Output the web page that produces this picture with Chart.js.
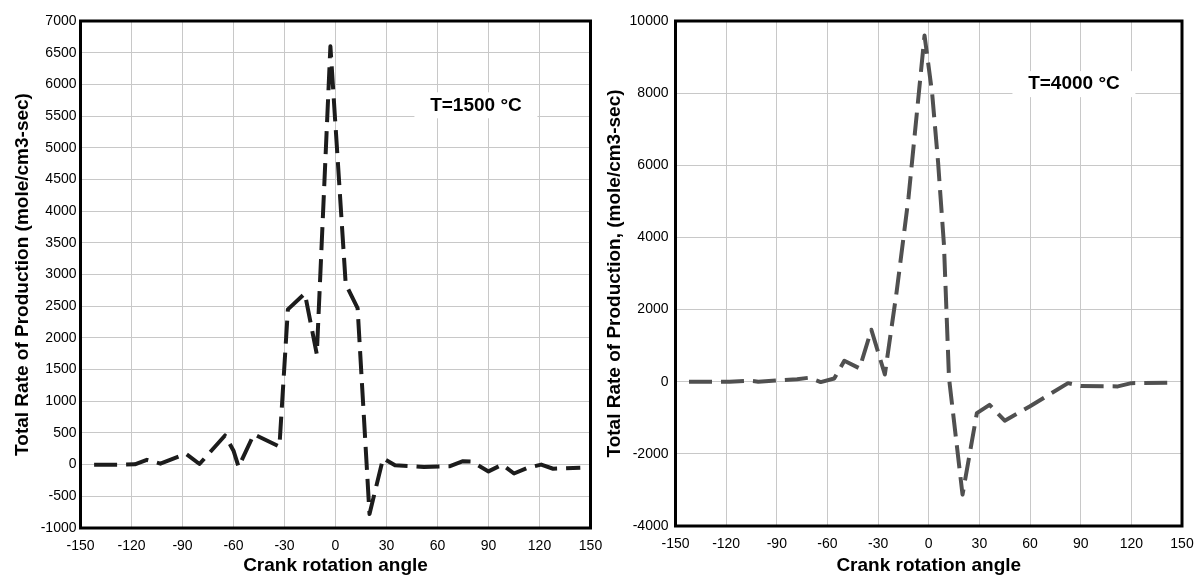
<!DOCTYPE html>
<html>
<head>
<meta charset="utf-8">
<script src="https://cdn.jsdelivr.net/npm/chart.js@4.4.0/dist/chart.umd.min.js"></script>
<style>
  html, body { margin: 0; padding: 0; background: #fff; }
  #wrap { position: relative; width: 1194px; height: 576px; overflow: hidden; }
  .box { position: absolute; top: 0; height: 576px; }
</style>
</head>
<body>
<div id="wrap">
  <div class="box" style="left:0;width:620px"><canvas id="chartLeft" width="620" height="576"></canvas></div>
  <div class="box" style="left:597px;width:597px"><canvas id="chartRight" width="597" height="576"></canvas></div>
</div>
<script>
// crank angle (deg) and production rate, T=1500 C
const angle1500 = [-142, -125, -118, -111, -103, -88, -80, -65, -60, -57, -48, -33, -28, -18, -11, -3, 6, 13, 20, 28, 35, 52, 67, 75, 80, 90, 98, 105, 113, 121, 128, 144];
const rate1500  = [0, 0, 5, 75, 15, 170, 10, 460, 220, -35, 480, 285, 2450, 2700, 1740, 6600, 2850, 2470, -780, 100, -10, -37, -27, 55, 50, -107, 0, -140, -50, 0, -65, -50];

// crank angle (deg) and production rate, T=4000 C
const angle4000 = [-142, -118, -106, -101, -78, -71, -64, -56, -50, -41, -34, -26, -19, -12, -2.5, 2, 5.5, 9, 12, 20, 28.5, 36, 45, 60, 82.5, 90, 112, 120, 144];
const rate4000  = [0, 0, 28, 0, 70, 110, -10, 90, 580, 370, 1440, 200, 2500, 5100, 9600, 8000, 6100, 3800, 100, -3130, -870, -640, -1080, -680, -40, -120, -130, -40, -30];

const xTicks = { min: -150, max: 150, step: 30 };
const yTicks1500 = { min: -1000, max: 7000, step: 500 };
const yTicks4000 = { min: -4000, max: 10000, step: 2000 };

const FONT = '"Liberation Sans", Arial, sans-serif';

function toPoints(xs, ys) {
  return xs.map((x, i) => ({ x: x, y: ys[i] }));
}

// black frame round the plot area and the temperature label
const framePlugin = {
  id: 'frame',
  afterDatasetsDraw(chart, args, opts) {
    const ctx = chart.ctx;
    const a = chart.chartArea;
    ctx.save();
    // label box
    const px = chart.scales.x.getPixelForValue(opts.labelX);
    const py = chart.scales.y.getPixelForValue(opts.labelY);
    ctx.fillStyle = '#fff';
    ctx.fillRect(px - opts.boxW / 2, py - 13, opts.boxW, 26);
    ctx.fillStyle = '#000';
    ctx.font = 'bold 19px ' + FONT;
    ctx.textAlign = 'center';
    ctx.textBaseline = 'middle';
    ctx.fillText(opts.label, px, py);
    // frame
    ctx.strokeStyle = '#000';
    ctx.lineWidth = 3;
    ctx.strokeRect(a.left, a.top, a.right - a.left, a.bottom - a.top);
    ctx.restore();
  }
};

function makeChart(id, xs, ys, yt, cfg) {
  const ctx = document.getElementById(id).getContext('2d');
  return new Chart(ctx, {
    type: 'scatter',
    data: {
      datasets: [{
        data: toPoints(xs, ys),
        showLine: true,
        borderColor: cfg.color,
        borderWidth: 4,
        borderDash: [23, 9],
        borderJoinStyle: 'round',
        pointRadius: 0,
        tension: 0,
        fill: false
      }]
    },
    options: {
      responsive: false,
      animation: false,
      layout: { autoPadding: false, padding: { left: 0, right: cfg.padRight, top: 21, bottom: 0 } },
      plugins: {
        legend: { display: false },
        tooltip: { enabled: false },
        frame: { label: cfg.label, labelX: cfg.labelX, labelY: cfg.labelY, boxW: 123 }
      },
      scales: {
        x: {
          type: 'linear',
          min: xTicks.min,
          max: xTicks.max,
          afterFit: s => { s.height = cfg.xHeight; s.paddingLeft = 0; s.paddingRight = 0; },
          ticks: { stepSize: xTicks.step, padding: 10, color: '#000', font: { family: FONT, size: 14 }, callback: v => String(v) },
          grid: { color: '#c8c8c8', lineWidth: 1, drawTicks: false },
          border: { display: false },
          title: {
            display: true,
            text: 'Crank rotation angle',
            color: '#000',
            font: { family: FONT, size: 19, weight: 'bold', lineHeight: 1.1 },
            padding: { top: 0, bottom: 0 }
          }
        },
        y: {
          min: yt.min,
          max: yt.max,
          afterFit: s => { s.width = cfg.yWidth; s.paddingTop = 0; s.paddingBottom = 0; },
          ticks: { stepSize: yt.step, padding: cfg.yPad, color: '#000', font: { family: FONT, size: 14 }, callback: v => String(v) },
          grid: { color: '#c8c8c8', lineWidth: 1, drawTicks: false },
          border: { display: false },
          title: {
            display: true,
            text: cfg.yTitle,
            color: '#000',
            font: { family: FONT, size: 19, weight: 'bold', lineHeight: 1.1 },
            padding: { top: cfg.yTitlePad, bottom: 0 }
          }
        }
      }
    },
    plugins: [framePlugin]
  });
}

makeChart('chartLeft', angle1500, rate1500, yTicks1500, {
  color: '#1c1c1c',
  label: 'T=1500 \u00B0C',
  labelX: 82.6, labelY: 5670,
  padRight: 29.5, xHeight: 48, yWidth: 80.5, yPad: 4, yTitlePad: 12,
  yTitle: 'Total Rate of Production (mole/cm3-sec)'
});

makeChart('chartRight', angle4000, rate4000, yTicks4000, {
  color: '#505050',
  label: 'T=4000 \u00B0C',
  labelX: 86, labelY: 8250,
  padRight: 12, xHeight: 50, yWidth: 78.5, yPad: 7, yTitlePad: 7,
  yTitle: 'Total Rate of Production, (mole/cm3-sec)'
});
</script>
</body>
</html>
